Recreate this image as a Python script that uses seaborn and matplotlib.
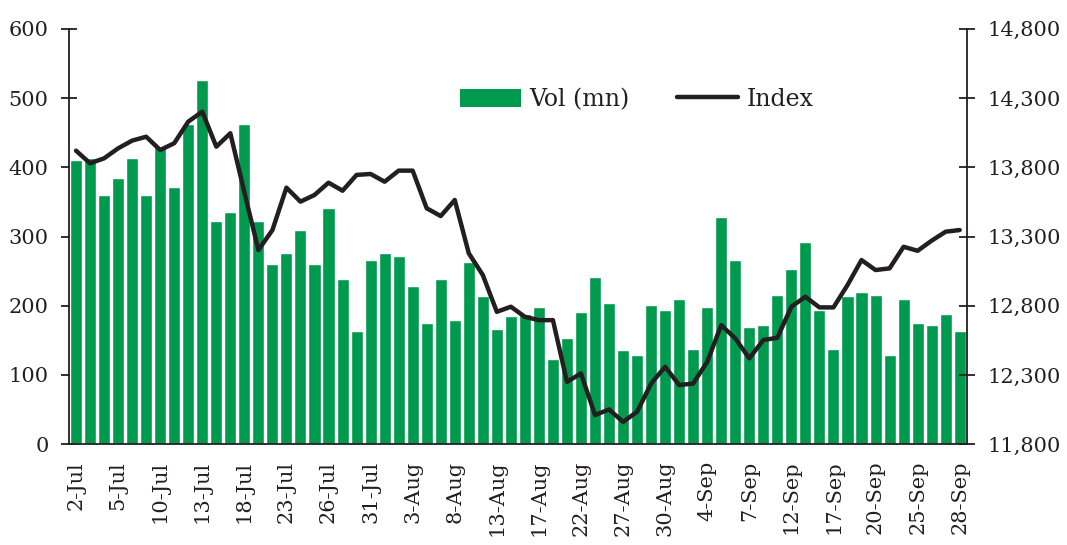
import numpy as np
import pandas as pd
import matplotlib
matplotlib.use('Agg')
import matplotlib.pyplot as plt
import seaborn as sns
from matplotlib.patches import Patch
from matplotlib.lines import Line2D
from matplotlib.ticker import FuncFormatter

# торговые дни июль-сентябрь 2012 (14-Aug выходной)
dates = pd.bdate_range('2012-07-02', '2012-09-28')
dates = dates[dates != pd.Timestamp('2012-08-14')]
date_labels = [f"{d.day}-{d.strftime('%b')}" for d in dates]

# объём, млн
volume = [410, 413, 360, 385, 413, 360, 430, 371, 462, 526,
          322, 335, 462, 322, 260, 276, 309, 260, 341, 238,
          163, 266, 276, 272, 228, 175, 238, 179, 263, 214,
          166, 185, 188, 198, 123, 153, 191, 241, 204, 136,
          129, 201, 194, 210, 137, 198, 328, 266, 169, 172,
          215, 253, 292, 194, 137, 214, 220, 215, 129, 210,
          175, 172, 188, 163]

# индекс
index_lvl = [13920, 13829, 13865, 13937, 13993, 14021, 13925, 13974, 14130, 14202,
             13949, 14046, 13620, 13202, 13347, 13653, 13552, 13600, 13689, 13631,
             13745, 13752, 13696, 13776, 13776, 13504, 13448, 13564, 13179, 13022,
             12756, 12793, 12720, 12696, 12696, 12250, 12311, 12010, 12051, 11961,
             12034, 12238, 12359, 12227, 12238, 12395, 12660, 12564, 12420, 12552,
             12569, 12793, 12865, 12788, 12788, 12949, 13130, 13058, 13070, 13226,
             13197, 13270, 13335, 13347]

vol_ticks = [0, 100, 200, 300, 400, 500, 600]
idx_ticks = [11800, 12300, 12800, 13300, 13800, 14300, 14800]

green = '#009a4e'
dark = '#231f20'

df = pd.DataFrame({'date': date_labels, 'vol': volume, 'index': index_lvl})
df['pos'] = np.arange(len(df))

sns.set_style('white')
plt.rcParams['font.family'] = ['DejaVu Serif']
plt.rcParams['text.color'] = dark

fig, ax = plt.subplots(figsize=(10.67, 5.45), dpi=100)
fig.subplots_adjust(left=0.0647, right=0.906, top=0.947, bottom=0.185)

sns.barplot(data=df, x='date', y='vol', color=green, saturation=1,
            width=0.86, ax=ax)
ax2 = ax.twinx()
sns.lineplot(data=df, x='pos', y='index', color=dark, lw=3.2, ax=ax2)

ax.set_xlim(-0.5, len(df) - 0.5)
ax.set_ylim(0, 600)
ax2.set_ylim(11800, 14800)
ax.set_xlabel('')
ax.set_ylabel('')
ax2.set_xlabel('')
ax2.set_ylabel('')

# подписи по оси X - каждая третья дата
ax.set_xticks(df['pos'][::3])
ax.set_xticklabels(df['date'][::3], rotation=90, fontsize=15, color=dark)
ax.set_xticks(np.arange(-0.5, len(df), 1), minor=True)
ax.tick_params(axis='x', which='major', length=0, pad=12)
ax.tick_params(axis='x', which='minor', direction='inout', length=11.5,
               width=1.3, color=dark)

ax.set_yticks(vol_ticks)
ax.tick_params(axis='y', direction='inout', length=11.5, width=1.3,
               color=dark, labelsize=15, labelcolor=dark, pad=9)
ax2.set_yticks(idx_ticks)
ax2.yaxis.set_major_formatter(FuncFormatter(lambda v, p: f'{int(v):,}'))
ax2.tick_params(axis='y', direction='inout', length=11.5, width=1.3,
                color=dark, labelsize=15, labelcolor=dark, pad=9)

for a in (ax, ax2):
    a.spines['top'].set_visible(False)
    for s in a.spines.values():
        s.set_color(dark)
        s.set_linewidth(1.3)
ax.spines['right'].set_visible(False)
ax2.spines['left'].set_visible(False)
ax2.spines['bottom'].set_visible(False)

handles = [Patch(facecolor=green, edgecolor='none'),
           Line2D([], [], color=dark, lw=3.2)]
ax2.legend(handles, ['Vol (mn)', 'Index'], ncol=2, frameon=False,
           loc='center left', bbox_to_anchor=(0.435, 0.83),
           fontsize=17, handlelength=2.6, handleheight=0.8,
           handletextpad=0.35, columnspacing=2.0,
           borderpad=0, borderaxespad=0)

fig.savefig('out.png', dpi=100)
